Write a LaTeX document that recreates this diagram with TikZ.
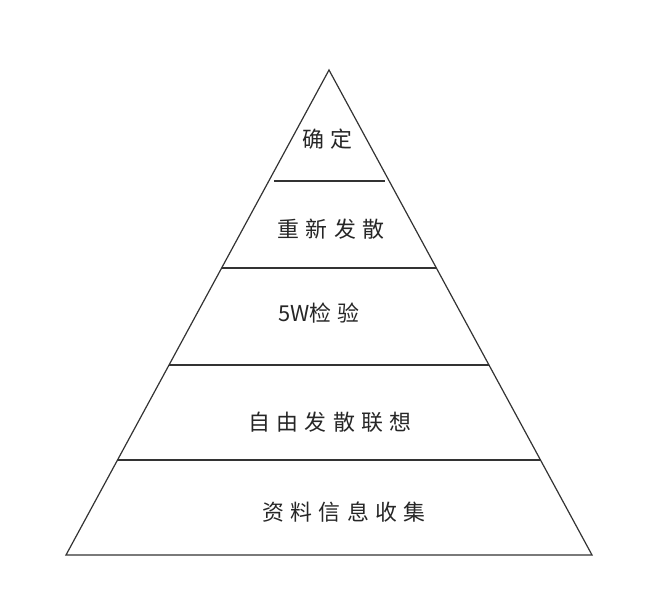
\documentclass[tikz,border=0pt]{standalone}
\usepackage{fontspec}
\usetikzlibrary{calc}
\newfontfamily\cjk[LetterSpace=28]{Noto Sans CJK SC}
\newfontfamily\cjkplain{Noto Sans CJK SC}
\begin{document}
\begin{tikzpicture}[x=1bp,y=-1bp,
  edge/.style={draw=black!80,line width=1.2bp},
  lbl/.style={font=\cjk\fontsize{22}{26}\selectfont,text=black!85,inner sep=0pt,anchor=center}]
\useasboundingbox[fill=white] (0,0) rectangle (672,616);
\coordinate (A) at (329,70);
\coordinate (L) at (66,555);
\coordinate (R) at (592,555);
\draw[edge,line join=miter] (L) -- (A) -- (R) -- cycle;
\coordinate (l1a) at (274,181); \coordinate (l1b) at (385,181);
\coordinate (l2a) at ($(A)!{(268-70)/485}!(L)$);
\coordinate (l2b) at ($(A)!{(268-70)/485}!(R)$);
\coordinate (l3a) at ($(A)!{(365-70)/485}!(L)$);
\coordinate (l3b) at ($(A)!{(365-70)/485}!(R)$);
\coordinate (l4a) at ($(A)!{(460-70)/485}!(L)$);
\coordinate (l4b) at ($(A)!{(460-70)/485}!(R)$);
\draw[edge] (l1a) -- (l1b);
\draw[edge] (l2a) -- (l2b);
\draw[edge] (l3a) -- (l3b);
\draw[edge] (l4a) -- (l4b);
\node[lbl] (t1) at (327,139) {确定};
\node[lbl] (t2) at (331,229) {重新发散};
\node[lbl] (t3) at (319,313) {{\cjkplain\fontsize{22}{26}\selectfont 5W}检验};
\node[lbl] (t4) at (330,422) {自由发散联想};
\node[lbl] (t5) at (344,512) {资料信息收集};
\end{tikzpicture}
\end{document}
